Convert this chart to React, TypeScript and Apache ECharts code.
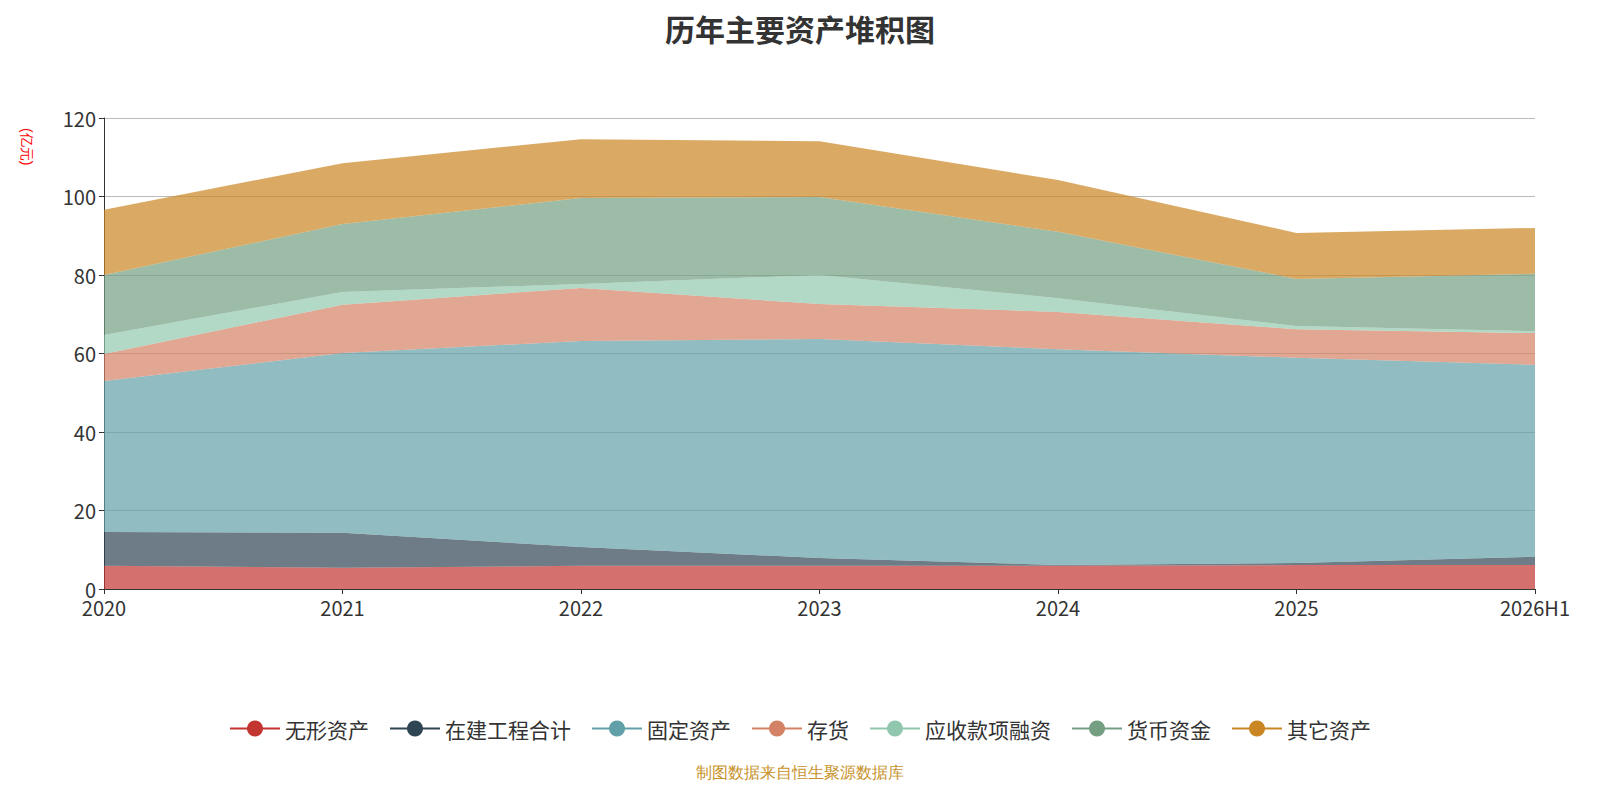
import { useEffect, useRef } from "react";
import * as echarts from "echarts";

const years = ["2020", "2021", "2022", "2023", "2024", "2025", "2026H1"];
const intangible = [5.9, 5.4, 5.9, 5.9, 5.9, 6.1, 6.1];
const construction = [8.6, 8.9, 4.8, 2.0, 0.2, 0.5, 2.1];
const fixedAssets = [38.5, 45.8, 52.5, 55.8, 55.0, 52.3, 48.9];
const inventory = [6.9, 12.3, 13.5, 8.9, 9.5, 7.3, 8.1];
const receivables = [4.8, 3.3, 1.0, 7.4, 3.5, 0.8, 0.5];
const cash = [15.3, 17.3, 21.9, 19.9, 16.9, 12.0, 14.6];
const others = [16.6, 15.5, 15.0, 14.2, 13.2, 11.7, 11.7];

const seriesDefs: [string, number[], string][] = [
  ["无形资产", intangible, "#c23531"],
  ["在建工程合计", construction, "#2f4554"],
  ["固定资产", fixedAssets, "#61a0a8"],
  ["存货", inventory, "#d48265"],
  ["应收款项融资", receivables, "#91c7ae"],
  ["货币资金", cash, "#749f83"],
  ["其它资产", others, "#ca8622"],
];

export default function App() {
  const ref = useRef<HTMLDivElement>(null);

  useEffect(() => {
    if (!ref.current) return;
    const chart = echarts.init(ref.current, null, { renderer: "svg" });
    chart.setOption({
      animation: false,
      textStyle: { fontFamily: "Noto Sans CJK SC" },
      title: {
        text: "历年主要资产堆积图",
        left: "center",
        top: 0,
        textStyle: { fontSize: 30, fontWeight: "bold", color: "#333" },
      },
      graphic: [
        {
          type: "text",
          left: "center",
          top: 756,
          style: { text: "制图数据来自恒生聚源数据库", fill: "#c8922a", fontSize: 16 },
        },
        {
          type: "text",
          x: 26,
          y: 120,
          rotation: -Math.PI / 2,
          style: { text: "(亿元)", fill: "red", fontSize: 14 },
        },
      ],
      legend: {
        bottom: 48,
        itemWidth: 50,
        itemHeight: 20,
        itemGap: 20,
        lineStyle: { width: 2 },
        textStyle: { fontSize: 21, color: "#333" },
      },
      grid: { left: 96, right: 57, top: 110, bottom: 203 },
      xAxis: {
        type: "category",
        data: years,
        boundaryGap: false,
        axisLine: { lineStyle: { color: "#333" } },
        axisTick: { show: true },
        axisLabel: { fontSize: 20, color: "#333" },
      },
      yAxis: {
        type: "value",
        min: 0,
        max: 120,
        interval: 20,
        axisLine: { show: true, lineStyle: { color: "#333" } },
        axisTick: { show: true },
        axisLabel: { fontSize: 20, color: "#333" },
        splitLine: { lineStyle: { color: "#bbb" } },
      },
      series: seriesDefs.map(([name, data, color]) => ({
        name,
        type: "line",
        stack: "total",
        data,
        symbol: "circle",
        symbolSize: 0,
        showSymbol: false,
        itemStyle: { color },
        lineStyle: { width: 0, color },
        areaStyle: { color, opacity: 0.7 },
      })),
    });
    return () => chart.dispose();
  }, []);

  return <div ref={ref} style={{ width: 1584, height: 784 }} />;
}
